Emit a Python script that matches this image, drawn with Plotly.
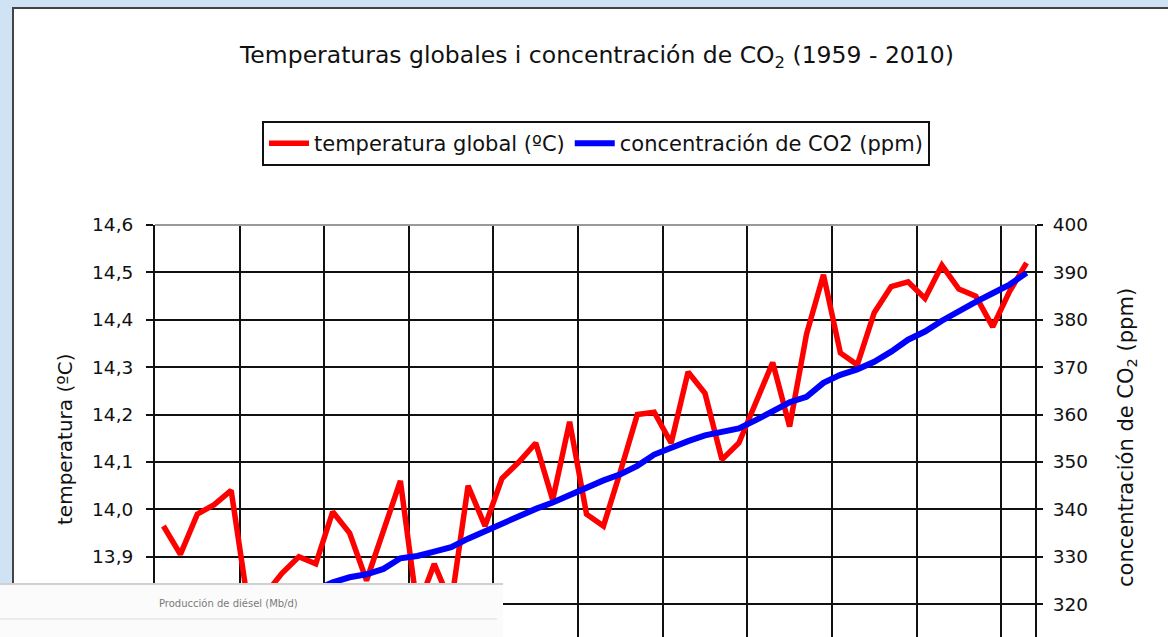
import plotly.graph_objects as go

# Annual series 1959-2010
years = list(range(1959, 2011))

temperatura = [
    13.965, 13.905, 13.99, 14.01, 14.04, 13.80, 13.82, 13.865, 13.90, 13.885,
    13.995, 13.95, 13.85, 13.955, 14.06, 13.79, 13.885, 13.80, 14.05, 13.965,
    14.065, 14.10, 14.14, 14.02, 14.185, 13.99, 13.965, 14.08, 14.20, 14.205,
    14.14, 14.29, 14.245, 14.105, 14.14, 14.225, 14.31, 14.175, 14.37, 14.495,
    14.33, 14.305, 14.415, 14.47, 14.48, 14.445, 14.515, 14.465, 14.45, 14.385,
    14.46, 14.52,
]

co2 = [
    315.97, 316.91, 317.64, 318.45, 318.99, 319.62, 320.04, 321.38, 322.16, 323.04,
    324.62, 325.68, 326.32, 327.45, 329.68, 330.18, 331.11, 332.04, 333.83, 335.40,
    336.84, 338.75, 340.11, 341.45, 343.05, 344.65, 346.12, 347.42, 349.19, 351.57,
    353.12, 354.39, 355.61, 356.45, 357.10, 358.83, 360.82, 362.61, 363.73, 366.70,
    368.38, 369.55, 371.14, 373.28, 375.80, 377.52, 379.80, 381.90, 383.79, 385.60,
    387.43, 389.90,
]

temp_ticks = [13.8, 13.9, 14.0, 14.1, 14.2, 14.3, 14.4, 14.5, 14.6]
co2_ticks = [320, 330, 340, 350, 360, 370, 380, 390, 400]

W, H = 1168, 637
PL, PR, PT, PB = 155, 1035, 225, 637


def px(x):
    return (x - PL) / (PR - PL)


def py(y):
    return (PB - y) / (PB - PT)


# visible value span of each axis (0.1 degC / 10 ppm per 47.4 px)
t_top = 14.6
t_bottom = t_top - (PB - PT) / 474.0
c_top = 400
c_bottom = c_top - (PB - PT) / 4.74

fig = go.Figure()

fig.add_trace(go.Scatter(
    x=years, y=temperatura, mode="lines", name="temperatura global (ºC)",
    line=dict(color="#ff0000", width=5.5), yaxis="y",
))
fig.add_trace(go.Scatter(
    x=years, y=co2, mode="lines", name="concentración de CO2 (ppm)",
    line=dict(color="#0000ff", width=6), yaxis="y2",
))

shapes = [
    # white chart frame
    dict(type="rect", xref="paper", yref="paper",
         x0=px(13), x1=px(1190), y0=py(700), y1=py(8),
         fillcolor="white", line=dict(color="#444444", width=2), layer="below"),
    # lighter top border of the plot area
    dict(type="line", xref="paper", yref="paper",
         x0=0, x1=1, y0=1, y1=1,
         line=dict(color="#9a9a9a", width=2), layer="above"),
    # caption strip in the lower-left corner
    dict(type="rect", xref="paper", yref="paper",
         x0=px(-5), x1=px(503), y0=py(660), y1=py(584),
         fillcolor="#fbfbfb", line=dict(width=0), layer="above"),
    dict(type="line", xref="paper", yref="paper",
         x0=px(-5), x1=px(503), y0=py(584), y1=py(584),
         line=dict(color="#d0d0d0", width=2), layer="above"),
    dict(type="line", xref="paper", yref="paper",
         x0=px(-5), x1=px(497), y0=py(619), y1=py(619),
         line=dict(color="#e6e6e6", width=1.5), layer="above"),
]

annotations = [
    dict(text="Temperaturas globales i concentración de CO<sub>2</sub> (1959 - 2010)",
         xref="paper", yref="paper", x=px(596), y=py(56),
         xanchor="center", yanchor="middle", showarrow=False,
         font=dict(family="DejaVu Sans", size=23.5, color="#111111")),
    dict(text="temperatura (ºC)", textangle=-90,
         xref="paper", yref="paper", x=px(65), y=py(440),
         xanchor="center", yanchor="middle", showarrow=False,
         font=dict(family="DejaVu Sans", size=20, color="#111111")),
    dict(text="concentración de CO<sub>2</sub> (ppm)", textangle=-90,
         xref="paper", yref="paper", x=px(1127), y=py(438),
         xanchor="center", yanchor="middle", showarrow=False,
         font=dict(family="DejaVu Sans", size=21, color="#111111")),
    dict(text="Producción de diésel (Mb/d)",
         xref="paper", yref="paper", x=px(228), y=py(603),
         xanchor="center", yanchor="middle", showarrow=False,
         font=dict(family="DejaVu Sans", size=10, color="#7a7a7a")),
]

fig.update_layout(
    width=W, height=H,
    margin=dict(l=PL, r=W - PR, t=PT, b=H - PB, autoexpand=False),
    paper_bgcolor="#cfe3f4",
    plot_bgcolor="white",
    separators=",.",
    showlegend=True,
    legend=dict(
        orientation="h", x=px(596), xanchor="center", y=py(121), yanchor="top",
        bgcolor="white", bordercolor="#111111", borderwidth=2,
        font=dict(family="DejaVu Sans", size=21, color="#111111"),
        itemwidth=40,
    ),
    xaxis=dict(
        range=[1958.5, 2010.5], tick0=1958.5, dtick=5, tickmode="linear",
        showgrid=True, gridcolor="#111111", gridwidth=2,
        showticklabels=False, ticks="", zeroline=False, showline=False,
        fixedrange=True,
    ),
    yaxis=dict(
        range=[t_bottom, t_top], tickmode="array", tickvals=temp_ticks,
        tickformat=".1f",
        showgrid=True, gridcolor="#111111", gridwidth=2,
        showline=True, linecolor="#111111", linewidth=2,
        ticks="outside", ticklen=7, tickwidth=2, tickcolor="#111111",
        ticklabelstandoff=9,
        tickfont=dict(family="DejaVu Sans", size=18.5, color="#111111"),
        zeroline=False, fixedrange=True,
    ),
    yaxis2=dict(
        range=[c_bottom, c_top], tickmode="array", tickvals=co2_ticks,
        overlaying="y", side="right",
        showgrid=False,
        showline=True, linecolor="#111111", linewidth=2,
        ticks="outside", ticklen=6, tickwidth=2, tickcolor="#111111",
        ticklabelstandoff=6,
        tickfont=dict(family="DejaVu Sans", size=18.5, color="#111111"),
        zeroline=False, fixedrange=True,
    ),
    shapes=shapes,
    annotations=annotations,
)

fig.write_html("out.html", config=dict(displayModeBar=False))
